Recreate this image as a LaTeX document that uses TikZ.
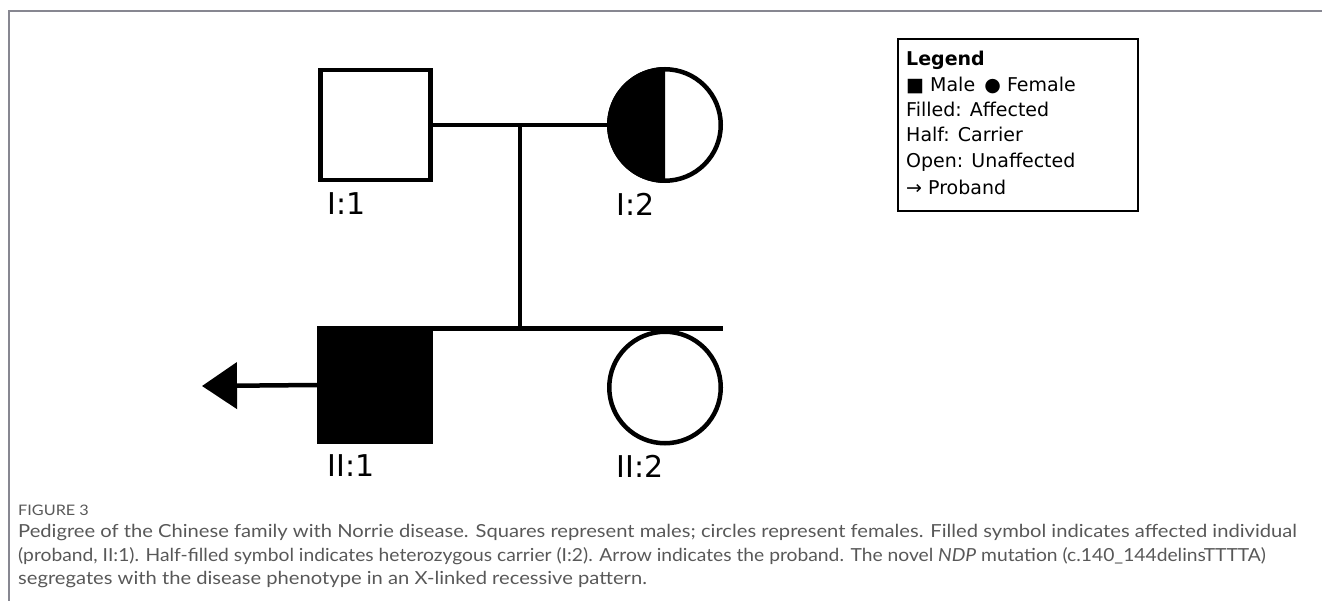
\documentclass[tikz,border=0pt]{standalone}
\usepackage{fontspec}
\setmainfont{DejaVu Sans}
\newfontfamily\capfont[FakeStretch=1.12]{Lato}
\usetikzlibrary{arrows.meta}
\definecolor{capgray}{RGB}{88,88,88}
\definecolor{framegray}{RGB}{135,135,145}
\begin{document}
\begin{tikzpicture}[x=1pt,y=-1pt,
  pedline/.style={line width=4.5pt},
  male/.style={draw, line width=4.5pt, minimum size=110pt, inner sep=0pt, fill=white},
  affmale/.style={draw, fill=black, line width=4.5pt, minimum width=111.5pt, minimum height=113.5pt, inner sep=0pt},
  female/.style={circle, draw, line width=4.5pt, minimum size=111.5pt, inner sep=0pt, fill=white},
  idlabel/.style={font=\fontsize{30}{30}\selectfont, inner sep=0pt},
  legtext/.style={anchor=base west, inner sep=0pt, font=\fontsize{19}{19}\selectfont},
  captext/.style={anchor=base west, inner sep=0pt, text=capgray, font=\capfont\fontsize{18}{18}\selectfont},
  framerule/.style={draw=framegray, line width=1.2pt}]
\useasboundingbox (0,0) rectangle (1322,601);

% page frame
\draw[framerule] (9,601) -- (9,11) -- (1322,11);

% generation I
\node[male] (I1) at (375.5,125) {};
\node[female] (I2) at (665,125) {};
\begin{scope}
  % left half of the carrier symbol
  \clip (I2.center) ++(-70,-70) rectangle ++(70,140);
  \fill[black] (I2.center) circle[radius=58pt];
\end{scope}
\node[idlabel] (lI1) at (347,204) {I:1};
\node[idlabel] (lI2) at (636,204) {I:2};

% generation II
\node[affmale] (II1) at (375,385) {};
\node[female] (II2) at (665,387.5) {};
\node[idlabel] (lII1) at (351,466) {II:1};
\node[idlabel] (lII2) at (640,466) {II:2};

% marriage, descent and sibship lines
\coordinate (mid) at (520,125);
\coordinate (sibtop) at (520,328.5);
\coordinate (sibend) at (723,328.5);
\draw[pedline] (I1.east) -- (I2.west);
\draw[pedline] (mid) -- (sibtop);
\draw[pedline] (II1.north east |- sibtop) -- (sibend);

% proband arrow
\coordinate (tip) at (202,386);
\draw[pedline, -{Triangle[length=35pt,width=46pt]}] (II1.west) -- (tip);

% legend
\node[draw, line width=2pt, minimum width=240pt, minimum height=172pt, inner sep=0pt] (legend) at (1018,125) {};
\node[legtext, font=\bfseries\fontsize{19}{19}\selectfont] (lg0) at (906,66) {Legend};
\node[legtext] (lg1) at (906,92) {■ Male \,● Female};
\node[legtext] (lg2) at (906,117) {Filled: Affected};
\node[legtext] (lg3) at (906,142) {Half: Carrier};
\node[legtext] (lg4) at (906,168) {Open: Unaffected};
\node[legtext] (lg5) at (906,195) {→ Proband};

% caption
\node[captext, font=\capfont\fontsize{14.5}{14.5}\selectfont] (fig) at (18,515) {FIGURE 3};
\node[captext] (cap1) at (18,537) {Pedigree of the Chinese family with Norrie disease. Squares represent males; circles represent females. Filled symbol indicates affected individual};
\node[captext] (cap2) at (18,561) {\scalebox{0.955}[1]{(proband, II:1). Half-filled symbol indicates heterozygous carrier (I:2). Arrow indicates the proband. The novel \textit{NDP} mutation (c.140\_144delinsTTTTA)}};
\node[captext] (cap3) at (18,584) {segregates with the disease phenotype in an X-linked recessive pattern.};
\end{tikzpicture}
\end{document}
